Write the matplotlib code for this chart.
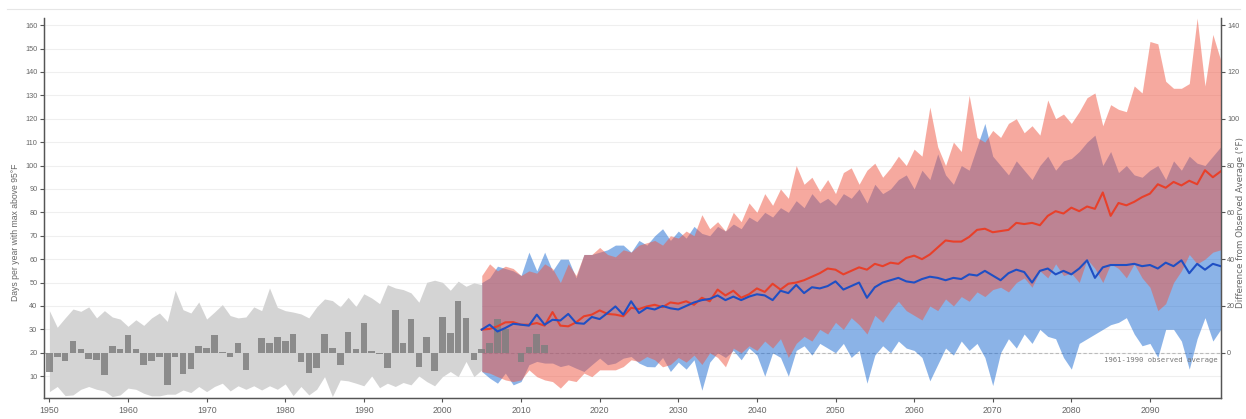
import numpy as np
import matplotlib
matplotlib.use("Agg")
from matplotlib import pyplot as plt
from matplotlib.lines import Line2D

plt.rcParams['font.family'] = ['Liberation Sans', 'DejaVu Sans']

# observed anomalies (days vs 1961-1990 average), 1950-2013
bar_years = np.arange(1950, 2014)
bar_vals = [-8.3, -1.6, -3.6, 4.9, 1.4, -2.7, -2.9, -9.4, 3.0, 1.4,
            7.7, 1.7, -5.4, -3.7, -1.9, -13.6, -1.9, -8.9, -7.0, 2.9,
            2.1, 7.7, 0.3, -1.6, 4.3, -7.3, -0.1, 6.3, 4.0, 6.6,
            5.0, 8.1, -3.9, -8.6, -6.3, 7.9, 2.1, -5.1, 8.9, 1.7,
            12.7, 0.6, -0.7, -6.7, 18.1, 4.3, 14.3, -6.0, 6.7, -7.7,
            15.3, 8.6, 22.1, 15.0, -2.9, 1.5, 4.0, 14.6, 10.2, 0.0,
            -4.1, 2.6, 8.1, 3.5]
obs_avg = 20

# historical modelled range 1950-2005
hist_years = np.arange(1950, 2006)
hist_hi = [38.0, 30.9, 34.9, 38.7, 37.7, 39.6, 34.9, 38.0, 35.3, 34.4,
           31.3, 34.1, 31.7, 34.9, 37.0, 33.4, 46.7, 38.4, 37.0, 41.7,
           34.4, 37.4, 40.6, 35.9, 34.9, 35.3, 39.6, 38.0, 47.7, 39.4,
           38.0, 37.4, 36.6, 34.9, 39.6, 43.0, 42.3, 39.6, 43.7, 39.8,
           45.2, 43.4, 41.0, 49.1, 47.7, 47.0, 45.6, 41.6, 50.1, 51.0,
           50.1, 46.7, 50.6, 48.4, 49.9, 49.1]
hist_lo = [3.4, 5.6, 1.7, 2.0, 4.4, 5.6, 4.4, 3.7, 1.3, 2.0,
           4.9, 4.4, 2.7, 1.6, 1.6, 2.3, 2.3, 4.1, 3.0, 5.6,
           3.4, 5.6, 7.0, 3.7, 5.9, 4.4, 5.9, 4.1, 5.9, 4.4,
           6.7, 1.7, 5.6, 2.0, 4.4, 9.8, 1.3, 8.4, 8.0, 7.0,
           5.9, 10.1, 5.1, 7.0, 5.6, 7.3, 6.3, 10.1, 7.7, 5.9,
           9.8, 12.0, 9.8, 16.3, 9.8, 12.7]

# projections 2005-2099
proj_years = np.arange(2005, 2100)
high_mean = [29.9, 30.2, 31.3, 33.0, 33.1, 32.0, 32.0, 32.7, 31.6, 37.4, 31.6, 31.3, 33.0, 35.6, 36.3, 38.1, 36.6, 36.3, 35.6, 39.2, 38.7, 39.8,
             40.5, 39.5, 41.5, 41.0, 42.0, 40.5, 43.5, 42.0, 47.0, 44.5, 46.5, 43.5, 45.0, 47.5, 46.0, 49.5, 47.0, 49.5, 50.0, 51.0,
             52.5, 54.0, 56.0, 55.5, 53.5, 55.0, 56.5, 55.5, 58.0, 57.0, 58.5, 58.0, 60.5, 61.5, 60.0, 62.0, 65.0, 68.0, 67.5, 67.5,
             69.5, 72.5, 73.0, 71.5, 72.0, 72.5, 75.5, 75.0, 75.5, 74.5, 78.5, 80.5, 79.5, 82.0, 80.5, 82.5, 81.5, 88.5, 78.5, 84.0,
             83.0, 84.5, 86.5, 88.0, 92.0, 90.5, 93.0, 91.5, 93.5, 92.0, 98.0, 95.0, 97.5]
high_hi = [53, 58, 55, 57, 56, 53, 55, 54, 58, 56, 50, 58, 53, 62, 62, 65, 62, 61, 64, 63, 66, 67,
           68, 66, 70, 69, 72, 70, 79, 73, 76, 72, 80, 76, 84, 80, 88, 83, 90, 86, 100, 92,
           95, 89, 94, 88, 97, 99, 92, 98, 101, 95, 99, 104, 100, 107, 104, 125, 108, 100, 110, 106,
           130, 112, 110, 115, 112, 118, 120, 114, 117, 113, 128, 120, 122, 118, 123, 129, 131, 117, 126, 124,
           123, 134, 131, 153, 152, 136, 133, 133, 135, 163, 134, 156, 145]
high_lo = [12.0, 11.3, 9.8, 8.4, 7.7, 8.4, 12.7, 9.8, 8.4, 7.7, 4.9, 8.4, 7.7, 11.3, 9.8, 12.7, 12.7, 12.7, 14.1, 17.0, 16.3, 18.4,
           17, 14, 15, 18, 16, 19, 15, 20, 18, 14, 22, 20, 23, 21, 25, 22, 26, 18, 24, 27,
           25, 30, 28, 33, 30, 35, 32, 28, 36, 33, 38, 42, 38, 36, 34, 40, 38, 43, 40, 44,
           42, 46, 44, 47, 48, 46, 50, 52, 48, 55, 52, 58, 53, 54, 50, 60, 56, 50, 58, 56,
           52, 58, 52, 48, 38, 41, 50, 55, 62, 58, 60, 63, 64]
low_mean = [29.9, 32.0, 29.1, 30.6, 32.4, 32.0, 31.6, 36.3, 32.0, 34.1, 33.8, 36.6, 32.7, 32.4, 35.3, 34.4, 37.0, 39.8, 36.3, 42.0, 37.0, 39.2,
            38.5, 40.0, 39.0, 38.5, 40.0, 41.5, 42.5, 43.0, 44.5, 42.5, 44.0, 42.5, 44.0, 45.0, 44.5, 42.5, 46.5, 45.5, 49.0, 45.5,
            48.0, 47.5, 48.5, 50.5, 47.0, 48.5, 50.0, 43.5, 48.0, 50.0, 51.0, 52.0, 50.5, 50.0, 51.5, 52.5, 52.0, 51.0, 52.0, 51.5,
            53.5, 53.0, 55.0, 53.0, 51.0, 54.0, 55.5, 54.5, 50.0, 55.0, 56.0, 53.5, 55.0, 53.5, 56.0, 59.5, 52.0, 56.5, 57.5, 57.5,
            57.5, 58.0, 57.0, 57.5, 56.0, 58.5, 57.0, 59.5, 54.0, 58.0, 55.5, 58.0, 57.0]
low_hi = [50, 52, 57, 56, 55, 53, 63, 55, 63, 55, 60, 60, 52, 62, 62, 63, 64, 66, 66, 63, 68, 66,
          70, 73, 68, 72, 69, 74, 71, 70, 74, 72, 75, 73, 78, 76, 80, 78, 82, 80, 85, 82,
          88, 84, 86, 83, 88, 86, 90, 84, 92, 88, 90, 94, 96, 90, 98, 94, 105, 96, 92, 100,
          98, 108, 118, 104, 100, 96, 102, 98, 94, 100, 104, 98, 102, 103, 106, 110, 113, 100, 106, 97,
          100, 96, 95, 98, 100, 94, 102, 98, 104, 101, 100, 104, 108]
low_lo = [12.0, 9.2, 7.0, 11.3, 6.3, 7.7, 14.9, 16.3, 15.6, 15.6, 14.1, 14.9, 13.4, 12.0, 14.9, 17.7, 14.9, 15.6, 17.7, 18.4, 15.6, 14.1,
          14, 18, 12, 16, 13, 17, 4, 16, 20, 18, 21, 17, 22, 19, 10, 20, 18, 10, 21, 23,
          19, 24, 22, 20, 24, 18, 21, 7, 19, 23, 20, 25, 22, 21, 18, 8, 15, 22, 19, 25,
          21, 24, 18, 6, 20, 26, 22, 28, 24, 30, 27, 26, 18, 13, 24, 26, 28, 30, 32, 33,
          35, 28, 23, 24, 18, 30, 30, 25, 13, 26, 35, 25, 30]

y_lo, y_hi = 0.8, 162.9
x_lo, x_hi = 1949.36, 2099.0

fig = plt.figure(figsize=(12.46, 4.19), dpi=100)
ax = fig.add_axes([0.0356, 0.0508, 0.9441, 0.9055])

for v in range(10, 170, 10):
    ax.axhline(v, color='#efefef', lw=0.8, zorder=0)
ax.axhline(obs_avg, color='#bbbbbb', lw=0.8, ls=(0, (3, 2)), zorder=0.5)

ax.fill_between(hist_years, hist_lo, hist_hi, color='#d4d4d4', lw=0, zorder=1)
ax.fill_between(proj_years, low_lo, low_hi, color='#1969d1', alpha=0.5, lw=0, zorder=2)
ax.fill_between(proj_years, high_lo, high_hi, color='#ef5541', alpha=0.5, lw=0, zorder=3)

ax.bar(bar_years, bar_vals, bottom=obs_avg, width=0.84, color='#7f7f7f', alpha=0.85, lw=0, zorder=4)

ax.plot(proj_years, high_mean, color='#e8402a', lw=1.5, zorder=5)
ax.plot(proj_years, low_mean, color='#1f4fc4', lw=1.5, zorder=5)

ax.text(2098.6, 16.7, '1961-1990 observed average', family='DejaVu Sans Mono',
        fontsize=5.2, color='#777777', ha='right', va='center', zorder=6)

ax.set_xlim(x_lo, x_hi)
ax.set_ylim(y_lo, y_hi)
ax.set_xticks(range(1950, 2100, 10))
ax.set_yticks(range(10, 170, 10))
ax.tick_params(axis='x', length=3, width=0.8, color='#555555', labelcolor='#666666', labelsize=6.3, pad=3)
ax.tick_params(axis='y', length=3, width=0.8, color='#555555', labelcolor='#666666', labelsize=5.3, pad=2)

ax2 = ax.twinx()
ax2.set_ylim(y_lo - obs_avg, y_hi - obs_avg)
ax2.set_yticks(range(0, 160, 20))
ax2.tick_params(axis='y', length=3, width=0.8, color='#555555', labelcolor='#666666', labelsize=5.2, pad=1.5)

for a in (ax, ax2):
    a.spines['top'].set_visible(False)
    for s in ('left', 'right', 'bottom'):
        a.spines[s].set_color('#555555')
        a.spines[s].set_linewidth(0.9)

fig.text(16 / 1246, 1 - 232 / 419, 'Days per year with max above 95°F', rotation=90,
         fontsize=6.2, color='#666666', ha='center', va='center')
fig.text(1240.5 / 1246, 1 - 222 / 419, 'Difference from Observed Average (°F)', rotation=90,
         family='DejaVu Sans', fontsize=6.3, color='#666666', ha='center', va='center')

fig.add_artist(Line2D([0.006, 0.995], [0.979, 0.979], transform=fig.transFigure, color='#e6e6e6', lw=0.8))

fig.savefig('out.png', dpi=100)
